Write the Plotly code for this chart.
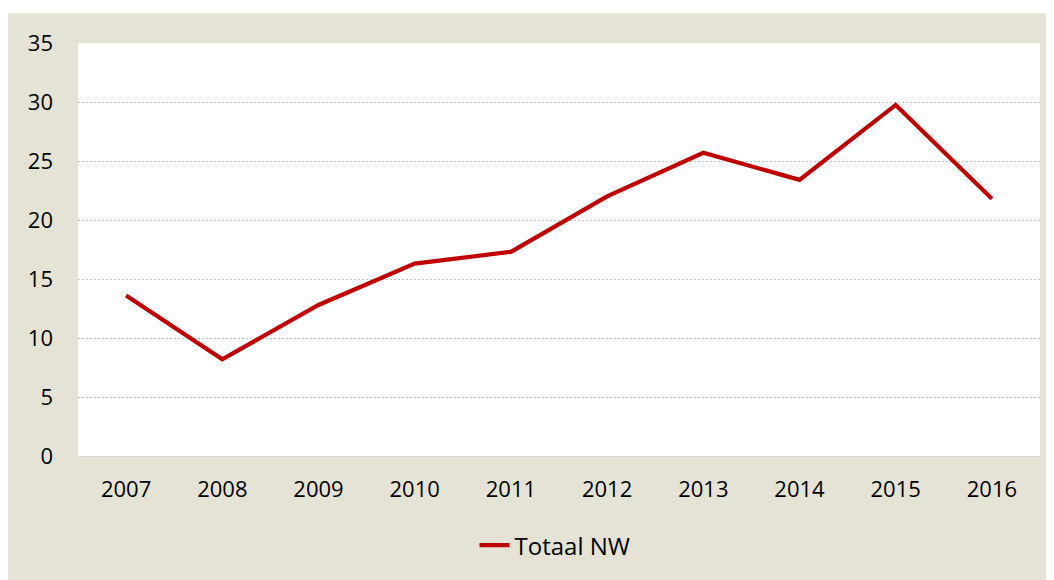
import plotly.graph_objects as go

years = ["2007", "2008", "2009", "2010", "2011", "2012", "2013", "2014", "2015", "2016"]
totaal_nw = [13.6, 8.2, 12.8, 16.3, 17.3, 22.0, 25.7, 23.4, 29.75, 21.8]
series_name = "Totaal NW"

y_ticks = [0, 5, 10, 15, 20, 25, 30, 35]

# the page body has an 8px margin, so the figure starts at (8, 8)
W, H = 1046, 572
L, R, T, B = 70, 14, 35, 122
pw, ph = W - L - R, H - T - B

BEIGE = "#E5E3D6"
FONT = "Open Sans"
FS = 22

fig = go.Figure()
fig.add_trace(go.Scatter(
    x=years, y=totaal_nw, mode="lines", name=series_name,
    line=dict(color="#C00000", width=4.2),
    showlegend=True,
))

# white strip at the very top (reference's beige starts 5px lower)
fig.add_shape(
    type="rect", xref="paper", yref="paper", layer="above",
    x0=-L / pw - 0.01, x1=1 + R / pw + 0.01,
    y0=1 + (T - 5) / ph, y1=1 + T / ph + 0.01,
    fillcolor="white", line=dict(width=0),
)

fig.update_layout(
    width=W, height=H,
    margin=dict(l=L, r=R, t=T, b=B),
    paper_bgcolor=BEIGE,
    plot_bgcolor="white",
    font=dict(family=FONT, size=FS, color="#000000"),
    showlegend=True,
    legend=dict(
        orientation="h", x=(547 - L) / pw, xanchor="center",
        y=-(540 - (T + ph)) / ph, yanchor="middle",
        bgcolor="rgba(0,0,0,0)", font=dict(family=FONT, size=24, color="#000000"),
    ),
    xaxis=dict(
        type="category", categoryorder="array", categoryarray=years,
        range=[-0.5, len(years) - 0.5],
        showgrid=False, zeroline=False,
        showline=True, linecolor="#D9D9D9", linewidth=1,
        ticks="", ticklabelstandoff=14,
        tickfont=dict(family=FONT, size=FS, color="#000000"),
    ),
    yaxis=dict(
        range=[0, 35], tickvals=y_ticks, ticktext=[str(v) for v in y_ticks],
        showgrid=True, gridcolor="#BFBFBF", gridwidth=1, griddash="2px,2px",
        zeroline=False, showline=False,
        ticks="", ticklabelstandoff=24,
        tickfont=dict(family=FONT, size=FS, color="#000000"),
    ),
)

fig.write_html("out.html")
